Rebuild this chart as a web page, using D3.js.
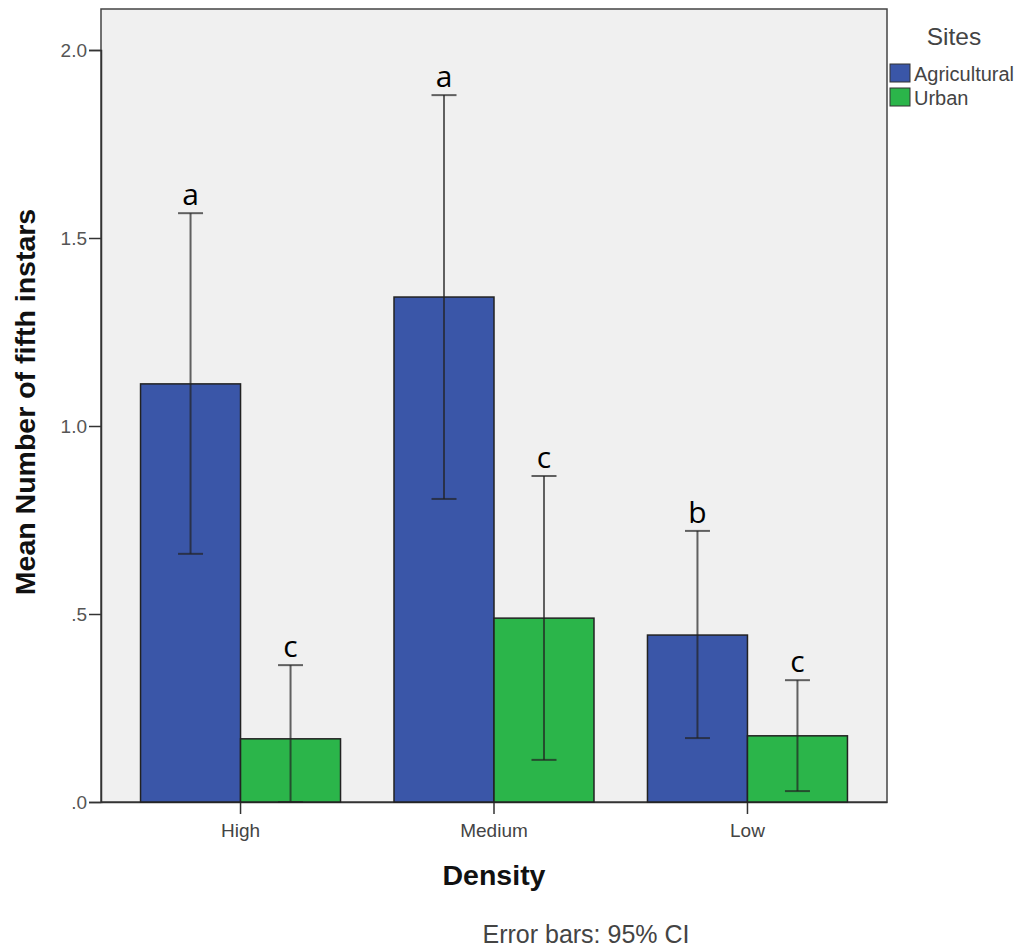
<!DOCTYPE html>
<html>
<head>
<meta charset="utf-8">
<script src="https://cdn.jsdelivr.net/npm/d3@7"></script>
<style>
  body { margin: 0; background: #fff; }
</style>
</head>
<body>
<script>
// data
const densities = ["High", "Medium", "Low"];
const sites = ["Agricultural", "Urban"];
const means = [[1.112, 0.168], [1.343, 0.489], [0.444, 0.176]];
const ciLow = [[0.660, 0.0], [0.806, 0.112], [0.170, 0.029]];
const ciHigh = [[1.566, 0.364], [1.880, 0.867], [0.721, 0.324]];
const letters = [["a", "c"], ["a", "c"], ["b", "c"]];
const yTicks = [0, 0.5, 1.0, 1.5, 2.0];
const yTickLabels = [".0", ".5", "1.0", "1.5", "2.0"];

const colors = ["#3a56a8", "#2bb54a"];
const sans = "'Liberation Sans', Arial, sans-serif";

const W = 1027, H = 951;
const plotL = 101, plotR = 887, plotT = 9, plotB = 802;

const svg = d3.select("body").append("svg")
  .attr("width", W)
  .attr("height", H)
  .style("font-family", sans);

// plot background + frame
svg.append("rect")
  .attr("x", plotL).attr("y", plotT)
  .attr("width", plotR - plotL).attr("height", plotB - plotT)
  .attr("fill", "#f0f0f0")
  .attr("stroke", "#444").attr("stroke-width", 1.5);

const y = d3.scaleLinear().domain([0, 2.0]).range([plotB, plotB - 2.0 * 376]);

const x = d3.scaleBand()
  .domain(densities)
  .range([plotL, plotR])
  .paddingInner(0.211)
  .paddingOuter(0.156);

const xs = d3.scaleBand().domain(sites).range([0, x.bandwidth()]);

// axes
const yAxis = d3.axisLeft(y)
  .tickValues(yTicks)
  .tickSize(12)
  .tickFormat((d, i) => yTickLabels[i]);
const gy = svg.append("g").attr("transform", `translate(${plotL},0)`).call(yAxis);
gy.attr("font-family", null);
gy.select(".domain").attr("stroke", "#333").attr("stroke-width", 1.5);
gy.selectAll(".tick line").attr("stroke", "#333").attr("stroke-width", 1.5);
gy.selectAll(".tick text").attr("fill", "#555").style("font-size", "19px").attr("x", -14);

const xAxis = d3.axisBottom(x).tickSize(12).tickSizeOuter(0);
const gx = svg.append("g").attr("transform", `translate(0,${plotB})`).call(xAxis);
gx.attr("font-family", null);
gx.select(".domain").attr("stroke", "#333").attr("stroke-width", 1.5);
gx.selectAll(".tick line").attr("stroke", "#333").attr("stroke-width", 1.5);
gx.selectAll(".tick text").attr("fill", "#444").style("font-size", "19px")
  .attr("y", 35).attr("dy", 0);

// bars
const rows = [];
densities.forEach((d, i) => sites.forEach((s, j) => rows.push({
  d, s, j, m: means[i][j], lo: ciLow[i][j], hi: ciHigh[i][j], letter: letters[i][j]
})));

const g = svg.append("g");
g.selectAll("rect.bar").data(rows).join("rect")
  .attr("class", "bar")
  .attr("x", r => x(r.d) + xs(r.s))
  .attr("y", r => y(r.m))
  .attr("width", xs.bandwidth())
  .attr("height", r => y(0) - y(r.m))
  .attr("fill", r => colors[r.j])
  .attr("stroke", "#222").attr("stroke-width", 1.5);

// error bars
const cx = r => x(r.d) + xs(r.s) + xs.bandwidth() / 2;
const capW = 12.5;
const eb = g.selectAll("g.err").data(rows).join("g").attr("class", "err")
  .attr("stroke", "#222").attr("stroke-opacity", 0.7).attr("stroke-width", 2);
eb.append("line")
  .attr("x1", cx).attr("x2", cx)
  .attr("y1", r => y(r.lo)).attr("y2", r => y(r.hi));
eb.append("line")
  .attr("x1", r => cx(r) - capW).attr("x2", r => cx(r) + capW)
  .attr("y1", r => y(r.hi)).attr("y2", r => y(r.hi));
eb.append("line")
  .attr("x1", r => cx(r) - capW).attr("x2", r => cx(r) + capW)
  .attr("y1", r => y(r.lo)).attr("y2", r => y(r.lo));

// significance letters
g.selectAll("text.letter").data(rows).join("text")
  .attr("class", "letter")
  .attr("x", cx)
  .attr("y", r => y(r.hi) - 8)
  .attr("text-anchor", "middle")
  .style("font-family", "'Open Sans', sans-serif")
  .style("font-size", "30px")
  .attr("fill", "#000")
  .text(r => r.letter);

// axis titles
svg.append("text")
  .attr("transform", `translate(35,${402}) rotate(-90)`)
  .attr("text-anchor", "middle")
  .style("font-weight", "bold")
  .style("font-size", "28.5px")
  .attr("fill", "#111")
  .text("Mean Number of fifth instars");

svg.append("text")
  .attr("x", 494).attr("y", 885)
  .attr("text-anchor", "middle")
  .style("font-weight", "bold")
  .style("font-size", "28.5px")
  .attr("fill", "#111")
  .text("Density");

svg.append("text")
  .attr("x", 586).attr("y", 943)
  .attr("text-anchor", "middle")
  .style("font-size", "25px")
  .attr("fill", "#444")
  .text("Error bars: 95% CI");

// legend
svg.append("text")
  .attr("x", 954).attr("y", 45)
  .attr("text-anchor", "middle")
  .style("font-size", "24.5px")
  .attr("fill", "#444")
  .text("Sites");

const lg = svg.selectAll("g.leg").data(sites).join("g").attr("class", "leg")
  .attr("transform", (d, i) => `translate(890,${64 + i * 24})`);
lg.append("rect")
  .attr("width", 20).attr("height", 18)
  .attr("fill", (d, i) => colors[i])
  .attr("stroke", "#333").attr("stroke-width", 1);
lg.append("text")
  .attr("x", 24).attr("y", 17)
  .style("font-size", "20px")
  .attr("fill", "#444")
  .text(d => d);
</script>
</body>
</html>
